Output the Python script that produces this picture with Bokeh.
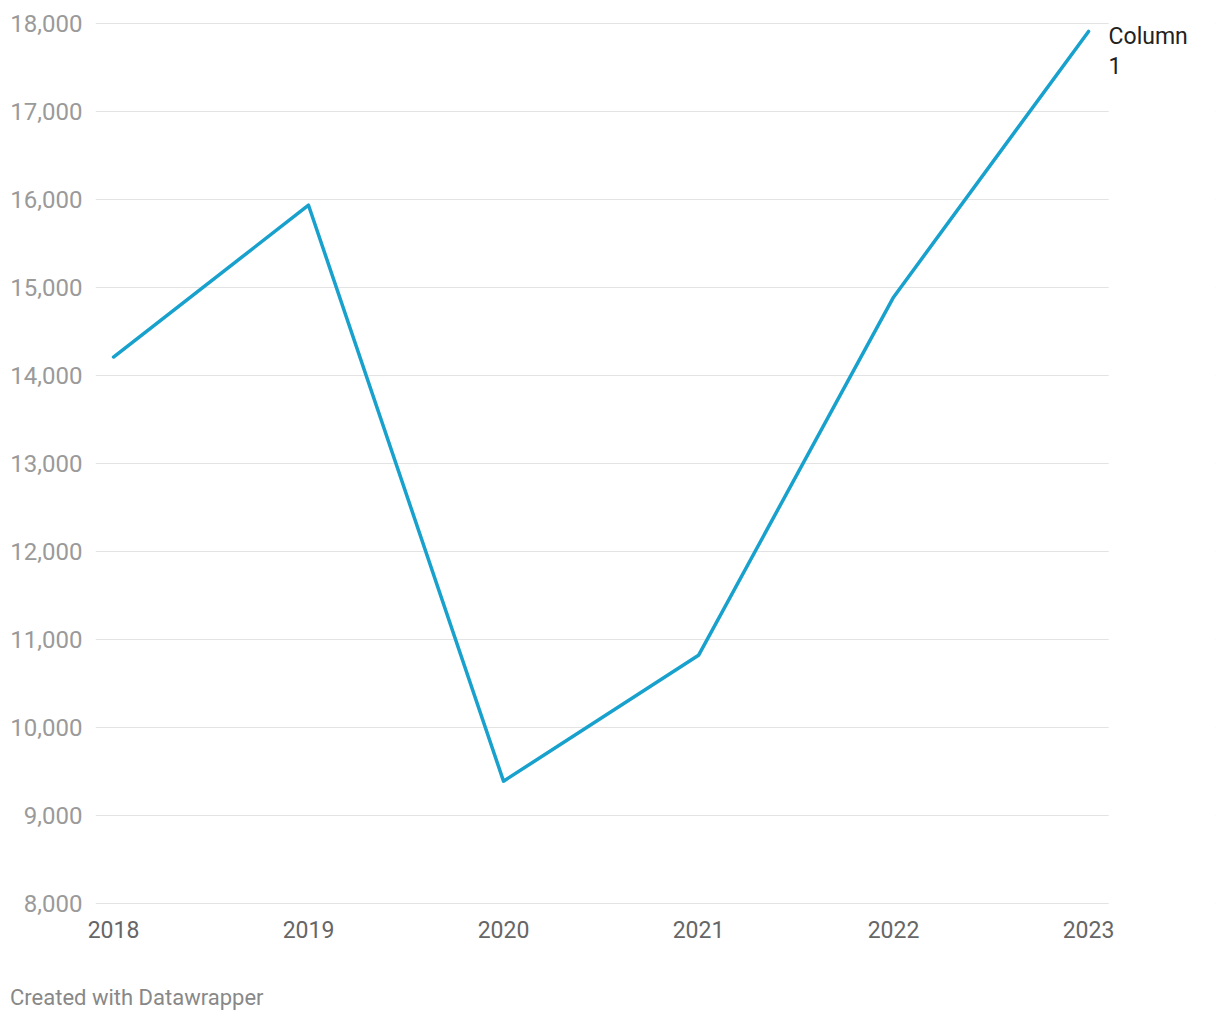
from bokeh.plotting import figure
from bokeh.models import Range1d, FixedTicker, NumeralTickFormatter, BoxAnnotation, Div
from bokeh.layouts import column
from bokeh.core.properties import value
from bokeh.embed import file_html
from bokeh.resources import INLINE

years = [2018, 2019, 2020, 2021, 2022, 2023]
values = [14210, 15935, 9390, 10820, 14890, 17910]
y_ticks = [8000, 9000, 10000, 11000, 12000, 13000, 14000, 15000, 16000, 17000, 18000]
series_name = "Column 1"
footer = "Created with Datawrapper"

LINE_COLOR = "#18a1cd"
FONT = "Roboto"
GRID_END = 2023.103   # right end of the gridlines (x units)

# frame: x 95..1215, y 22..904 (page pixels)
p = figure(width=1220, height=975, output_backend="svg", toolbar_location=None,
           x_range=Range1d(2017.9077, 2023.651), y_range=Range1d(7988.6, 18011.4),
           min_border_left=95, min_border_right=5, min_border_top=22, min_border_bottom=71)
p.outline_line_color = None
p.background_fill_color = "white"
p.border_fill_color = "white"

p.xgrid.grid_line_color = None
p.ygrid.grid_line_color = "#e3e3e3"
p.ygrid.grid_line_width = 1
p.yaxis.ticker = FixedTicker(ticks=y_ticks)
p.xaxis.ticker = FixedTicker(ticks=years)
p.yaxis.formatter = NumeralTickFormatter(format="0,0")

# hide gridlines to the right of the plot area (label zone)
p.add_layout(BoxAnnotation(left=GRID_END, fill_color="white", fill_alpha=1.0,
                           line_color=None, level="underlay"))

p.line(years, values, line_color=LINE_COLOR, line_width=3.5, line_join="round", line_cap="round")

p.text(x=[years[-1]], y=[values[-1]], text=[series_name.replace(" ", "\n")],
       x_offset=20, y_offset=-8, text_font=value(FONT), text_font_size="23px",
       text_color="#222222", text_baseline="top", text_align="left", text_line_height=1.08)

for ax in (p.xaxis, p.yaxis):
    ax.axis_line_color = None
    ax.major_tick_line_color = None
    ax.minor_tick_line_color = None
    ax.major_tick_out = 0
    ax.major_tick_in = 0
    ax.major_label_text_font = FONT
    ax.major_label_text_font_size = "23px"

p.yaxis.major_label_text_font_size = "24px"
p.yaxis.major_label_text_color = "#9a9a9a"
p.yaxis.major_label_standoff = 13
p.xaxis.major_label_text_color = "#666666"
p.xaxis.major_label_standoff = 16

div = Div(text=footer, width=1220, height=45,
          styles={"font-family": "Roboto", "font-size": "22px", "color": "#888888",
                  "padding-left": "5px", "padding-top": "5px", "line-height": "26px"})

layout = column(p, div, spacing=0)
open("out.html", "w").write(file_html(layout, INLINE))
